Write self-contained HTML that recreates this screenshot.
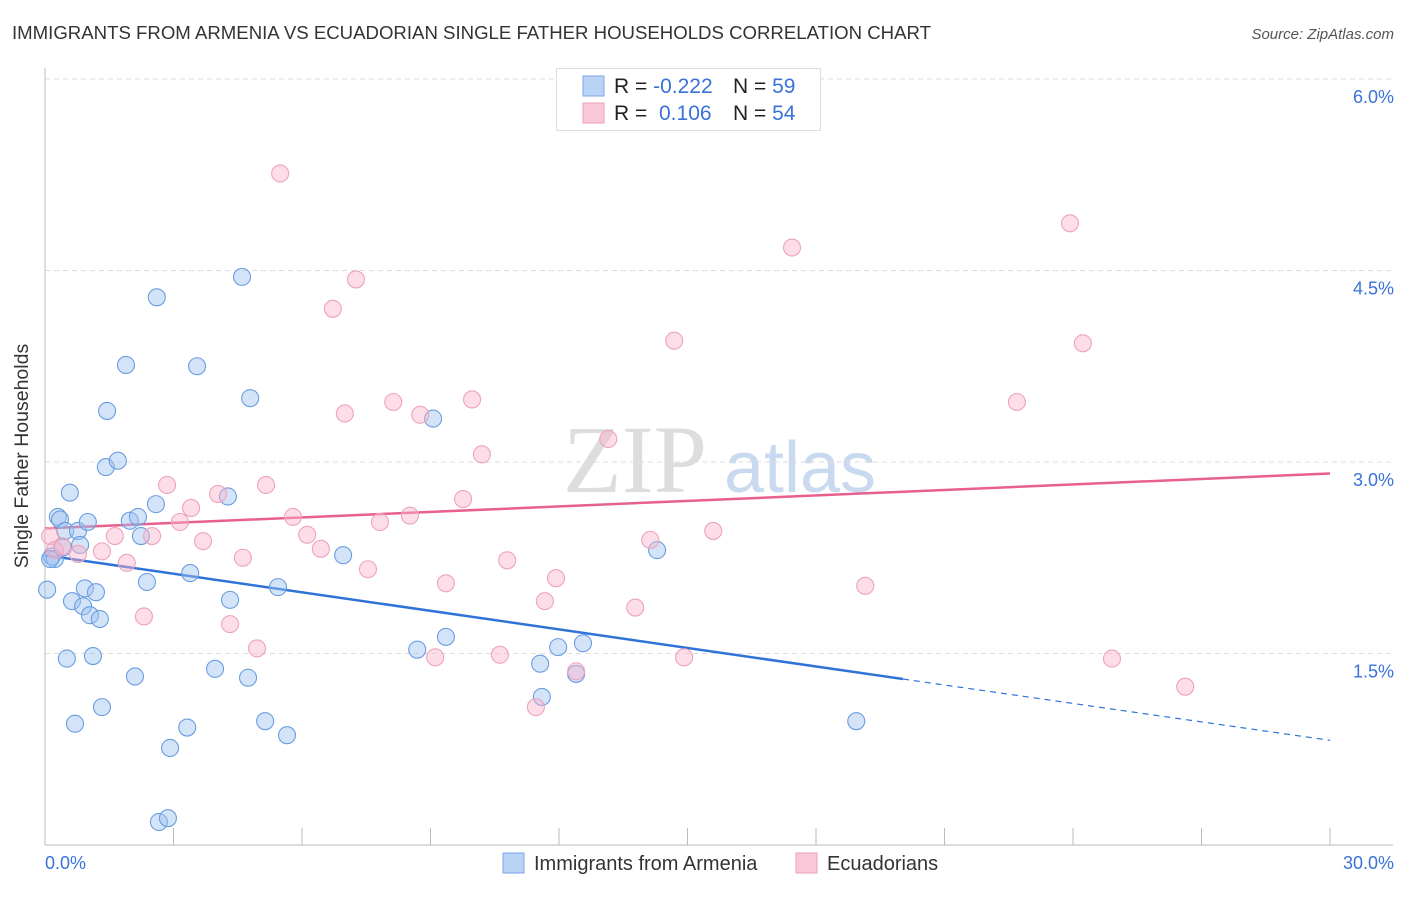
<!DOCTYPE html>
<html><head><meta charset="utf-8"><style>
body{margin:0;background:#fff;font-family:"Liberation Sans",sans-serif;}
svg text{font-family:"Liberation Sans",sans-serif;}
</style></head><body>
<svg width="1406" height="892" xmlns="http://www.w3.org/2000/svg" id="chart">
<text x="12" y="39" font-size="18" fill="#333" textLength="919" lengthAdjust="spacingAndGlyphs">IMMIGRANTS FROM ARMENIA VS ECUADORIAN SINGLE FATHER HOUSEHOLDS CORRELATION CHART</text>
<text x="1394" y="39" font-size="15" fill="#555" font-style="italic" text-anchor="end">Source: ZipAtlas.com</text>
<g>
<text x="635" y="492" font-size="96" fill="#ddd" text-anchor="middle" font-family="Liberation Serif" style="font-family:'Liberation Serif',serif">ZIP</text>
<text x="800" y="492" font-size="72" fill="#c9daf0" text-anchor="middle">atlas</text>
</g>
<g id="grid"></g>
<g id="axes"></g>
<g id="trends"></g>
<g id="points"></g>
<text x="28" y="456" font-size="19.5" fill="#333" text-anchor="middle" transform="rotate(-90 28 456)">Single Father Households</text>
<text x="45" y="869" font-size="18" fill="#3a72d8">0.0%</text>
<text x="1394" y="869" font-size="18" fill="#3a72d8" text-anchor="end">30.0%</text>
<g>
<rect x="556.5" y="68.5" width="264" height="62" fill="#fff" stroke="#ddd"/>
<rect x="583" y="76" width="21" height="20" fill="#b9d3f5" stroke="#7aa6e6"/>
<rect x="583" y="103" width="21" height="20" fill="#fac8d8" stroke="#ee9fb8"/>
<text x="614" y="93" font-size="21" fill="#222">R = <tspan fill="#3a72d8">-0.222</tspan><tspan x="733">N = </tspan><tspan fill="#3a72d8">59</tspan></text>
<text x="614" y="120" font-size="21" fill="#222">R = <tspan x="659" fill="#3a72d8">0.106</tspan><tspan x="733">N = </tspan><tspan fill="#3a72d8">54</tspan></text>
</g>
<g>
<rect x="503" y="853" width="21" height="20" fill="#b9d3f5" stroke="#7aa6e6"/>
<text x="534" y="870" font-size="20" fill="#333">Immigrants from Armenia</text>
<rect x="796" y="853" width="21" height="20" fill="#fac8d8" stroke="#ee9fb8"/>
<text x="827" y="870" font-size="20" fill="#333">Ecuadorians</text>
</g>
</svg>
<script>
const yTicks=[1.5,3.0,4.5,6.0];
const yTickLabels=["1.5%","3.0%","4.5%","6.0%"];
const xTicks=[3,6,9,12,15,18,21,24,27,30];
const armeniaX=[0.05,0.16,0.23,0.30,0.35,0.42,0.47,0.51,0.58,0.63,0.70,0.77,0.82,0.89,0.93,1.00,1.05,1.12,1.19,1.28,1.33,1.42,1.45,1.70,1.89,1.98,2.10,2.17,2.24,2.38,2.59,2.61,2.66,2.87,2.92,3.32,3.39,3.55,3.97,4.27,4.32,4.60,4.74,4.79,5.14,5.44,5.65,6.96,8.69,9.06,9.36,11.56,11.60,11.98,12.40,12.56,14.29,18.94,0.12];
const armeniaY=[2.00,2.26,2.24,2.57,2.55,2.33,2.46,1.46,2.76,1.91,0.95,2.46,2.35,1.87,2.01,2.53,1.80,1.48,1.98,1.77,1.08,2.96,3.40,3.01,3.76,2.54,1.32,2.57,2.42,2.06,2.67,4.29,0.18,0.21,0.76,0.92,2.13,3.75,1.38,2.73,1.92,4.45,1.31,3.50,0.97,2.02,0.86,2.27,1.53,3.34,1.63,1.42,1.16,1.55,1.34,1.58,2.31,0.97,2.24];
const ecuadorX=[0.12,0.23,0.40,0.77,1.33,1.63,1.91,2.31,2.50,2.85,3.15,3.41,3.69,4.04,4.32,4.62,4.95,5.16,5.49,5.79,6.12,6.44,6.72,7.00,7.26,7.54,7.82,8.13,8.52,8.76,9.11,9.36,9.76,9.97,10.20,10.62,10.79,11.46,11.67,11.93,12.40,13.15,13.78,14.13,14.69,14.92,15.60,17.44,19.15,22.69,23.93,24.23,24.91,26.62];
const ecuadorY=[2.42,2.31,2.34,2.28,2.30,2.42,2.21,1.79,2.42,2.82,2.53,2.64,2.38,2.75,1.73,2.25,1.54,2.82,5.26,2.57,2.43,2.32,4.20,3.38,4.43,2.16,2.53,3.47,2.58,3.37,1.47,2.05,2.71,3.49,3.06,1.49,2.23,1.08,1.91,2.09,1.36,3.18,1.86,2.39,3.95,1.47,2.46,4.68,2.03,3.47,4.87,3.93,1.46,1.24];
const armeniaTrend=[2.27,1.30,0.82]; const armeniaTrendX=[0,20.03,30];
const ecuadorTrend=[2.48,2.91]; const ecuadorTrendX=[0,30];
const NS="http://www.w3.org/2000/svg";
const X0=45,X1=1330,YB=845,PXPER=191.5/1.5;
function sx(v){return X0+(X1-X0)*v/30;}
function sy(v){return YB-v*PXPER;}
function mk(t,a,p){const e=document.createElementNS(NS,t);for(const k in a)e.setAttribute(k,a[k]);document.getElementById(p).appendChild(e);return e;}
yTicks.forEach((v,i)=>{
 const l=mk('line',{x1:45,x2:1393,y1:sy(v),y2:sy(v),stroke:'#ddd','stroke-dasharray':'5,4'},'grid');
 
 
 const t=mk('text',{x:1394,y:sy(v)+24,'font-size':18,fill:'#3a72d8','text-anchor':'end'},'grid');
 t.textContent=yTickLabels[i];
 
 
});
let ax=mk('line',{x1:45,x2:45,y1:68,y2:845,stroke:'#bbb'},'axes');


let bx=mk('line',{x1:45,x2:1393,y1:845,y2:845,stroke:'#bbb'},'axes');


xTicks.forEach(v=>{
 const t=mk('line',{x1:sx(v),x2:sx(v),y1:828,y2:845,stroke:'#bbb'},'axes');
 
 
});
function pts(xs,ys,fill,stroke,name){
 xs.forEach((x,i)=>{
  const c=mk('circle',{cx:sx(x),cy:sy(ys[i]),r:8.5,fill:fill,stroke:stroke,'stroke-width':1.1},'points');
  
  
 });
}
pts(armeniaX,armeniaY,'rgba(160,196,240,0.45)','#6a9de0','armenia-point');
pts(ecuadorX,ecuadorY,'rgba(248,180,204,0.45)','#eda3bb','ecuadorian-point');
let t1=mk('line',{x1:sx(armeniaTrendX[0]),y1:sy(armeniaTrend[0]),x2:sx(armeniaTrendX[1]),y2:sy(armeniaTrend[1]),stroke:'#2f72d8','stroke-width':2.5},'trends');


let t2=mk('line',{x1:sx(armeniaTrendX[1]),y1:sy(armeniaTrend[1]),x2:sx(armeniaTrendX[2]),y2:sy(armeniaTrend[2]),stroke:'#2f72d8','stroke-width':1.2,'stroke-dasharray':'6,5'},'trends');


let t3=mk('line',{x1:sx(ecuadorTrendX[0]),y1:sy(ecuadorTrend[0]),x2:sx(ecuadorTrendX[1]),y2:sy(ecuadorTrend[1]),stroke:'#e8608c','stroke-width':2.5},'trends');


</script>
</body></html>
